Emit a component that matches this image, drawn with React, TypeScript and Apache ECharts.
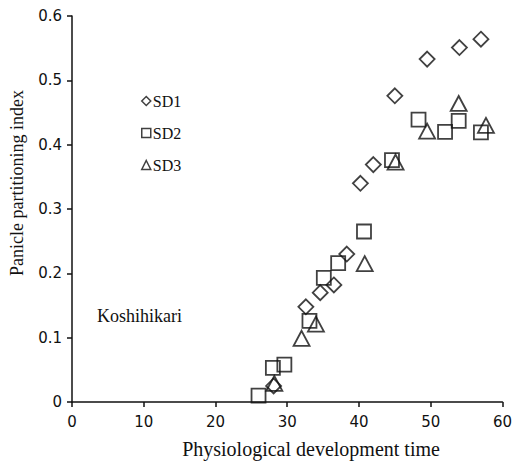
import React, { useEffect, useRef } from "react";
import * as echarts from "echarts";

const sd1X = [28.1, 32.6, 34.6, 36.5, 38.3, 40.2, 42.0, 45.0, 49.5, 54.0, 57.0];
const sd1Y = [0.025, 0.148, 0.170, 0.182, 0.230, 0.340, 0.369, 0.476, 0.533, 0.551, 0.564];

const sd2X = [26.0, 28.0, 29.6, 33.1, 35.1, 37.1, 40.7, 44.6, 48.3, 52.0, 53.9, 57.0];
const sd2Y = [0.010, 0.053, 0.058, 0.126, 0.193, 0.216, 0.265, 0.376, 0.439, 0.420, 0.437, 0.419];

const sd3X = [28.2, 32.0, 34.0, 40.8, 45.1, 49.5, 53.9, 57.7];
const sd3Y = [0.029, 0.099, 0.121, 0.215, 0.373, 0.421, 0.464, 0.430];

const seriesNames = ["SD1", "SD2", "SD3"];
const xTitle = "Physiological development time";
const yTitle = "Panicle partitioning index";
const cultivar = "Koshihikari";

const pairs = (xs: number[], ys: number[]) => xs.map((x, i) => [x, ys[i]]);

export default function App() {
  const ref = useRef<HTMLDivElement>(null);
  useEffect(() => {
    if (!ref.current) return;
    const chart = echarts.init(ref.current, undefined, { renderer: "svg" });
    const serif = "'Liberation Serif', 'Times New Roman', serif";
    const sans = "'DejaVu Sans', Verdana, sans-serif";
    const itemStyle = { color: "rgba(0,0,0,0)", borderColor: "#111", borderWidth: 1.8 };
    chart.setOption({
      animation: false,
      grid: { left: 72, right: 8, top: 16, bottom: 60, containLabel: false },
      legend: {
        orient: "vertical",
        left: 136,
        top: 88,
        itemWidth: 9,
        itemHeight: 9,
        itemGap: 16,
        textStyle: { fontFamily: serif, fontSize: 16, color: "#111", padding: [0, 0, 0, -3] },
        data: seriesNames.map((n) => ({ name: n, itemStyle: { color: "rgba(0,0,0,0)", borderColor: "#111", borderWidth: 1.5 } })),
      },
      xAxis: {
        type: "value",
        min: 0,
        max: 60,
        interval: 10,
        splitLine: { show: false },
        axisLine: { lineStyle: { color: "#111", width: 1.5 } },
        axisTick: { show: true, length: 5, lineStyle: { color: "#111", width: 1.5 } },
        axisLabel: { fontFamily: sans, fontSize: 15, color: "#111", margin: 12 },
      },
      yAxis: {
        type: "value",
        min: 0,
        max: 0.6,
        interval: 0.1,
        splitLine: { show: false },
        axisLine: { show: true, lineStyle: { color: "#111", width: 1.5 } },
        axisTick: { show: true, length: 5, lineStyle: { color: "#111", width: 1.5 } },
        axisLabel: { fontFamily: sans, fontSize: 15, color: "#111", margin: 10 },
      },
      graphic: [
        {
          type: "text",
          x: 311,
          y: 449,
          style: { text: xTitle, font: `20px ${serif}`, fill: "#111", textAlign: "center", textVerticalAlign: "middle" },
        },
        {
          type: "text",
          x: 17,
          y: 183,
          rotation: Math.PI / 2,
          style: { text: yTitle, font: `18px ${serif}`, fill: "#111", textAlign: "center", textVerticalAlign: "middle" },
        },
        {
          type: "text",
          x: 97,
          y: 316,
          style: { text: cultivar, font: `18px ${serif}`, fill: "#111", textAlign: "left", textVerticalAlign: "middle" },
        },
      ],
      series: [
        { name: seriesNames[0], type: "scatter", symbol: "diamond", symbolSize: 15, itemStyle, data: pairs(sd1X, sd1Y) },
        { name: seriesNames[1], type: "scatter", symbol: "rect", symbolSize: 14, itemStyle, data: pairs(sd2X, sd2Y) },
        { name: seriesNames[2], type: "scatter", symbol: "triangle", symbolSize: [16, 15], itemStyle, data: pairs(sd3X, sd3Y) },
      ],
    });
    return () => chart.dispose();
  }, []);
  return <div ref={ref} style={{ width: 515, height: 462, position: "absolute", left: 0, top: 0 }} />;
}
